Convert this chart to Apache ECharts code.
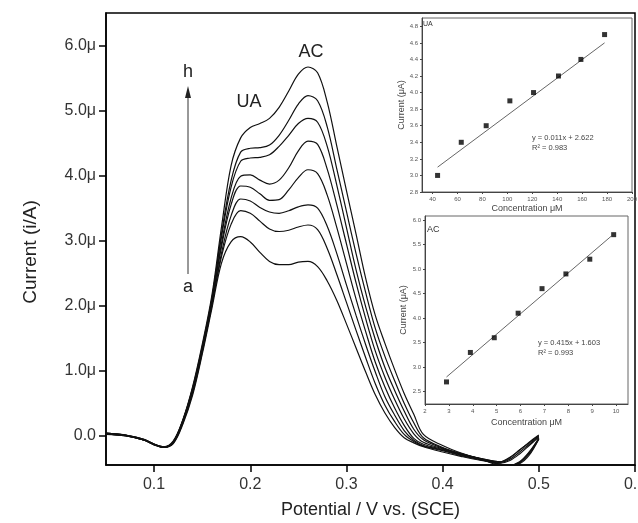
<!DOCTYPE html>
<html><head><meta charset="utf-8">
<script src="https://cdn.jsdelivr.net/npm/echarts@6/dist/echarts.min.js"></script>
<style>html,body{margin:0;padding:0;background:#fff}#c{width:638px;height:523px}</style>
</head><body><div id="c"></div>
<script>
// ---------- main DPV curves ----------
const potentials = [0.05,0.07,0.09,0.10,0.11,0.12,0.13,0.14,0.15,0.16,0.17,0.18,0.19,0.20,0.21,0.22,0.23,0.24,0.25,0.26,0.27,0.28,0.29,0.30,0.31,0.32,0.33,0.34,0.35,0.36,0.37,0.38,0.40,0.42,0.44,0.46,0.47,0.48,0.49,0.50];
const curveA = [0.02,0.00,-0.07,-0.13,-0.18,-0.12,0.18,0.62,1.25,1.95,2.65,2.98,3.06,2.98,2.82,2.68,2.63,2.63,2.67,2.68,2.60,2.38,2.08,1.72,1.35,0.98,0.63,0.35,0.13,-0.03,-0.11,-0.17,-0.25,-0.32,-0.38,-0.42,-0.38,-0.28,-0.15,-0.02];
const curveB = [0.03,0.01,-0.06,-0.13,-0.18,-0.11,0.20,0.65,1.28,2.00,2.75,3.25,3.46,3.42,3.30,3.18,3.14,3.16,3.21,3.24,3.17,2.88,2.48,2.05,1.62,1.20,0.80,0.47,0.22,0.02,-0.09,-0.16,-0.23,-0.31,-0.37,-0.44,-0.45,-0.40,-0.25,-0.04];
const curveC = [0.04,0.01,-0.07,-0.14,-0.18,-0.11,0.21,0.67,1.30,2.00,2.80,3.38,3.64,3.61,3.51,3.44,3.42,3.46,3.52,3.55,3.50,3.22,2.80,2.32,1.85,1.40,0.98,0.60,0.32,0.08,-0.07,-0.15,-0.22,-0.30,-0.36,-0.41,-0.36,-0.25,-0.13,-0.01];
const curveD = [0.03,0.00,-0.07,-0.13,-0.18,-0.10,0.22,0.68,1.32,2.05,2.90,3.55,3.84,3.82,3.72,3.62,3.63,3.78,3.97,4.09,4.03,3.70,3.20,2.65,2.10,1.60,1.13,0.75,0.43,0.16,-0.04,-0.13,-0.21,-0.29,-0.36,-0.44,-0.45,-0.42,-0.28,-0.05];
const curveE = [0.04,0.01,-0.06,-0.13,-0.17,-0.10,0.23,0.70,1.33,2.05,2.95,3.65,3.99,4.01,3.93,3.87,3.93,4.12,4.38,4.53,4.48,4.10,3.55,2.95,2.35,1.80,1.30,0.90,0.56,0.26,0.03,-0.10,-0.20,-0.29,-0.35,-0.40,-0.34,-0.22,-0.11,0.00];
const curveF = [0.03,0.00,-0.07,-0.14,-0.18,-0.09,0.24,0.72,1.35,2.10,3.05,3.82,4.22,4.27,4.28,4.32,4.45,4.62,4.80,4.88,4.82,4.45,3.85,3.20,2.55,1.98,1.48,1.05,0.70,0.38,0.10,-0.06,-0.19,-0.28,-0.36,-0.45,-0.45,-0.41,-0.26,-0.04];
const curveG = [0.04,0.01,-0.06,-0.13,-0.17,-0.09,0.24,0.73,1.37,2.10,3.10,3.92,4.36,4.42,4.43,4.47,4.62,4.85,5.10,5.23,5.15,4.75,4.10,3.45,2.80,2.20,1.65,1.22,0.85,0.50,0.20,-0.03,-0.18,-0.28,-0.35,-0.40,-0.33,-0.22,-0.10,0.01];
const curveH = [0.03,0.00,-0.07,-0.13,-0.17,-0.08,0.25,0.75,1.40,2.15,3.20,4.15,4.58,4.74,4.80,4.88,5.05,5.30,5.56,5.67,5.58,5.13,4.45,3.77,3.10,2.42,1.85,1.42,1.02,0.65,0.33,0.02,-0.15,-0.27,-0.36,-0.44,-0.45,-0.43,-0.30,-0.05];
const curves = [curveA,curveB,curveC,curveD,curveE,curveF,curveG,curveH];
const mainXTicks = [0.1,0.2,0.3,0.4,0.5,0.6];
const mainYTicks = [0,1,2,3,4,5,6];

// ---------- UA inset ----------
const uaConc = [44,63,83,102,121,141,159,178];
const uaCurrent = [3.0,3.4,3.6,3.9,4.0,4.2,4.4,4.7];
const uaFit = [[44,3.1],[178,4.6]];
const uaXTicks = [40,60,80,100,120,140,160,180,200];
const uaYTicks = [2.8,3.0,3.2,3.4,3.6,3.8,4.0,4.2,4.4,4.6,4.8];

// ---------- AC inset ----------
const acConc = [2.9,3.9,4.9,5.9,6.9,7.9,8.9,9.9];
const acCurrent = [2.7,3.3,3.6,4.1,4.6,4.9,5.2,5.7];
const acFit = [[2.9,2.8],[9.8,5.67]];
const acXTicks = [2,3,4,5,6,7,8,9,10];
const acYTicks = [2.5,3.0,3.5,4.0,4.5,5.0,5.5,6.0];

const FF = '"Liberation Sans", Arial, sans-serif';
const chart = echarts.init(document.getElementById('c'));

function insetX(idx, min, max, ticks, gap){
  return {gridIndex: idx, type:'value', min, max, name:'Concentration \u03bcM', nameLocation:'middle', nameGap: gap,
    nameTextStyle:{fontSize:9, color:'#444', fontFamily:FF},
    axisLine:{show:true, onZero:false, lineStyle:{color:'#444', width:1}},
    axisTick:{show:true, length:2, customValues:ticks, lineStyle:{color:'#444'}},
    axisLabel:{fontSize:6, color:'#555', margin:4, fontFamily:FF, customValues:ticks},
    splitLine:{show:false}};
}
function insetY(idx, min, max, ticks, gap){
  return {gridIndex: idx, type:'value', min, max, name:'Current (\u03bcA)', nameLocation:'middle', nameGap: gap,
    nameTextStyle:{fontSize:9, color:'#444', fontFamily:FF},
    axisLine:{show:true, onZero:false, lineStyle:{color:'#444', width:1}},
    axisTick:{show:true, length:2, customValues:ticks, lineStyle:{color:'#444'}},
    axisLabel:{fontSize:6, color:'#555', margin:4, fontFamily:FF, customValues:ticks, formatter:v=>v.toFixed(1)},
    splitLine:{show:false}};
}

const series = curves.map(c => ({
  type:'line', xAxisIndex:0, yAxisIndex:0, data: potentials.map((p,i)=>[p,c[i]]),
  showSymbol:false, smooth:0.35, lineStyle:{color:'#111', width:1.2}, silent:true
}));
series.push({type:'scatter', xAxisIndex:1, yAxisIndex:1, z:20, data: uaConc.map((x,i)=>[x,uaCurrent[i]]), symbol:'rect', symbolSize:5, itemStyle:{color:'#000'}});
series.push({type:'line', xAxisIndex:1, yAxisIndex:1, z:19, data: uaFit, showSymbol:false, lineStyle:{color:'#666', width:1}});
series.push({type:'scatter', xAxisIndex:2, yAxisIndex:2, z:20, data: acConc.map((x,i)=>[x,acCurrent[i]]), symbol:'rect', symbolSize:5, itemStyle:{color:'#000'}});
series.push({type:'line', xAxisIndex:2, yAxisIndex:2, z:19, data: acFit, showSymbol:false, lineStyle:{color:'#666', width:1}});

chart.setOption({
  animation:false,
  backgroundColor:'#fff',
  grid:[
    {left:106, right:3, top:13, bottom:58, outerBoundsMode:'none', containLabel:false, show:true, borderColor:'#000', borderWidth:1.5, backgroundColor:'transparent'},
    {left:422, right:6, top:18, bottom:331, outerBoundsMode:'none', containLabel:false, show:true, borderColor:'#666', borderWidth:1, backgroundColor:'#fff'},
    {left:425, right:10, top:216, bottom:119, outerBoundsMode:'none', containLabel:false, show:true, borderColor:'#666', borderWidth:1, backgroundColor:'#fff'}
  ],
  xAxis:[
    {gridIndex:0, type:'value', min:0.05, max:0.6, name:'Potential / V vs. (SCE)', nameLocation:'middle', nameGap:36,
     nameTextStyle:{fontSize:18, color:'#222', fontFamily:FF},
     axisLine:{onZero:false, lineStyle:{color:'#000', width:1.5}},
     axisTick:{length:7, customValues:mainXTicks, lineStyle:{color:'#000', width:1.5}},
     axisLabel:{fontSize:16, color:'#333', margin:12, fontFamily:FF, customValues:mainXTicks, formatter:v=>v.toFixed(1)},
     splitLine:{show:false}},
    insetX(1, 31.5, 200, uaXTicks, 12),
    insetX(2, 2, 10.5, acXTicks, 14)
  ],
  yAxis:[
    {gridIndex:0, type:'value', min:-0.45, max:6.5,
     axisLine:{onZero:false, lineStyle:{color:'#000', width:1.5}},
     axisTick:{length:7, customValues:mainYTicks, lineStyle:{color:'#000', width:1.5}},
     axisLabel:{fontSize:16, color:'#333', margin:10, fontFamily:FF, customValues:mainYTicks, formatter:v=> v===0 ? '0.0' : v.toFixed(1)+'\u03bc'},
     splitLine:{show:false}},
    insetY(1, 2.8, 4.9, uaYTicks, 16),
    insetY(2, 2.25, 6.08, acYTicks, 17)
  ],
  series,
  graphic:[
    {type:'text', x:31, y:252, rotation:Math.PI/2, style:{text:'Current (i/A)', fill:'#222', font:'19px '+FF, align:'center', verticalAlign:'middle'}},
    {type:'line', shape:{x1:188, y1:274, x2:188, y2:96}, style:{stroke:'#333', lineWidth:1}},
    {type:'polygon', shape:{points:[[188,86],[185,98],[191,98]]}, style:{fill:'#222'}},
    {type:'text', x:188, y:72, style:{text:'h', fill:'#222', font:'18px '+FF, align:'center', verticalAlign:'middle'}},
    {type:'text', x:188, y:287, style:{text:'a', fill:'#222', font:'18px '+FF, align:'center', verticalAlign:'middle'}},
    {type:'text', x:249, y:102, style:{text:'UA', fill:'#222', font:'18px '+FF, align:'center', verticalAlign:'middle'}},
    {type:'text', x:311, y:52, style:{text:'AC', fill:'#222', font:'18px '+FF, align:'center', verticalAlign:'middle'}},
    {type:'text', x:423, y:24, z:30, style:{text:'UA', fill:'#333', font:'7px '+FF, align:'left', verticalAlign:'middle'}},
    {type:'text', x:532, y:138, z:30, style:{text:'y = 0.011x + 2.622', fill:'#444', font:'7.5px '+FF, align:'left', verticalAlign:'middle'}},
    {type:'text', x:532, y:148, z:30, style:{text:'R\u00b2 = 0.983', fill:'#444', font:'7.5px '+FF, align:'left', verticalAlign:'middle'}},
    {type:'text', x:427, y:230, z:30, style:{text:'AC', fill:'#333', font:'9px '+FF, align:'left', verticalAlign:'middle'}},
    {type:'text', x:538, y:343, z:30, style:{text:'y = 0.415x + 1.603', fill:'#444', font:'7.5px '+FF, align:'left', verticalAlign:'middle'}},
    {type:'text', x:538, y:353, z:30, style:{text:'R\u00b2 = 0.993', fill:'#444', font:'7.5px '+FF, align:'left', verticalAlign:'middle'}}
  ]
});
</script></body></html>
